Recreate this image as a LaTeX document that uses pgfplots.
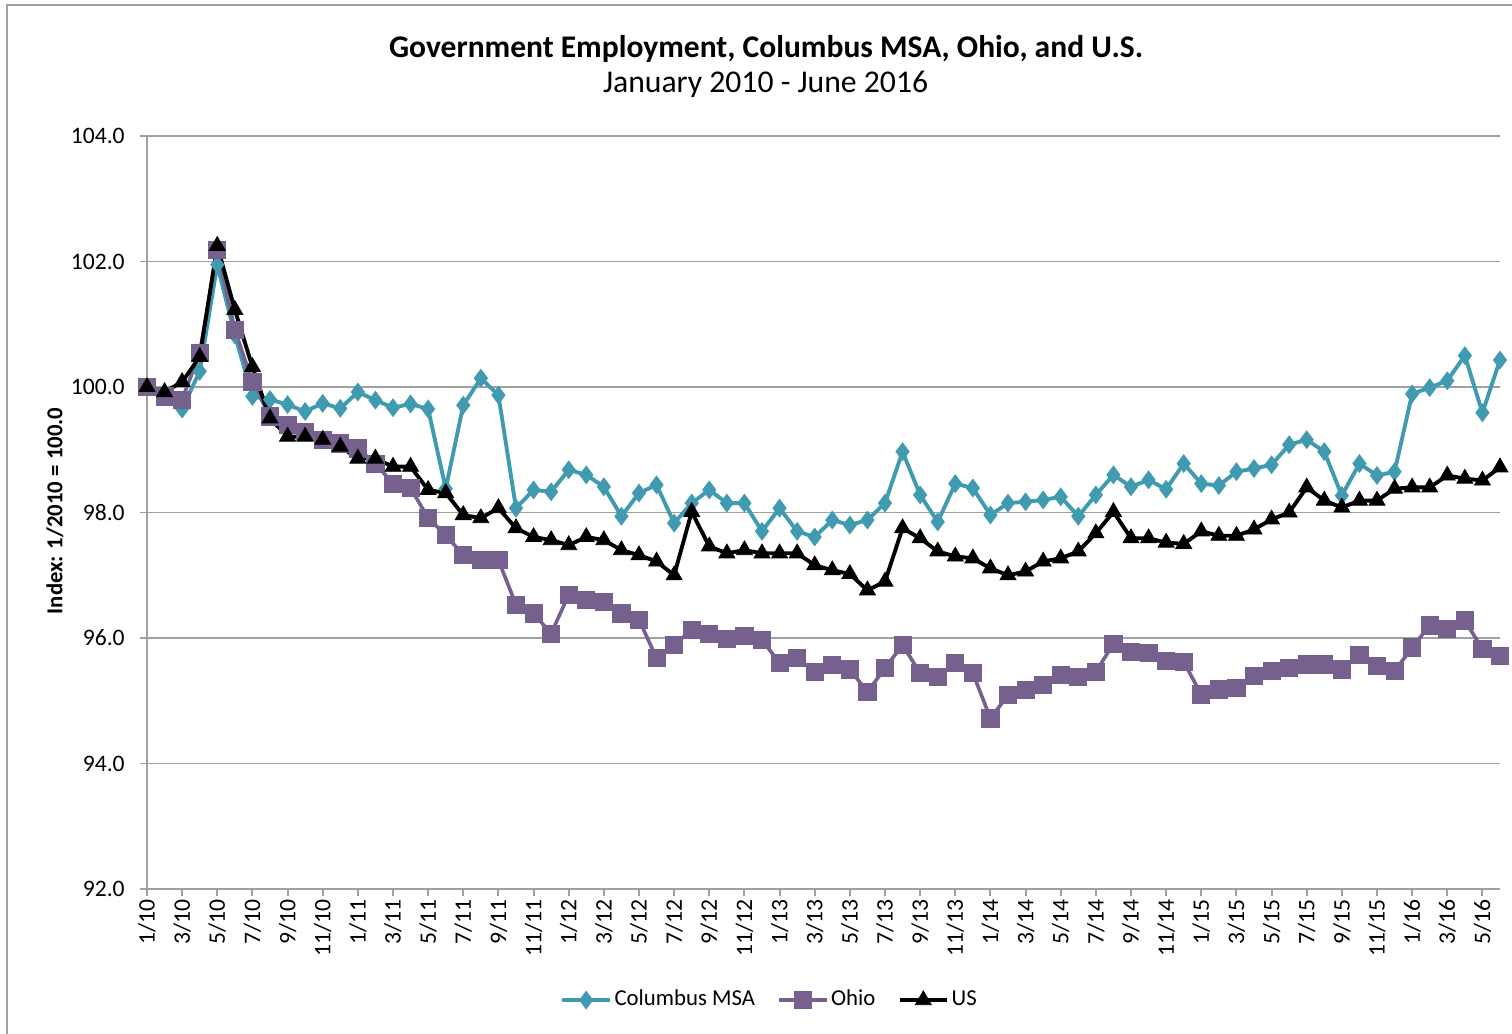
\documentclass[border=0pt]{standalone}
\usepackage{fontspec}
\setmainfont{Carlito}
\usepackage{pgfplots}
\pgfplotsset{compat=1.18}
\definecolor{colteal}{RGB}{64,155,177}
\definecolor{colpurp}{RGB}{118,96,142}
\definecolor{gridc}{RGB}{160,160,160}

\pgfplotstableread{
x y
0 100.00
1 99.90
2 99.65
3 100.25
4 101.95
5 100.83
6 99.85
7 99.80
8 99.72
9 99.61
10 99.74
11 99.66
12 99.92
13 99.79
14 99.67
15 99.73
16 99.65
17 98.38
18 99.71
19 100.14
20 99.87
21 98.07
22 98.36
23 98.33
24 98.68
25 98.60
26 98.41
27 97.94
28 98.31
29 98.44
30 97.83
31 98.15
32 98.36
33 98.15
34 98.15
35 97.70
36 98.07
37 97.70
38 97.61
39 97.88
40 97.80
41 97.88
42 98.15
43 98.97
44 98.28
45 97.85
46 98.46
47 98.39
48 97.96
49 98.15
50 98.17
51 98.20
52 98.25
53 97.94
54 98.28
55 98.60
56 98.41
57 98.52
58 98.37
59 98.78
60 98.46
61 98.43
62 98.65
63 98.70
64 98.76
65 99.08
66 99.16
67 98.97
68 98.27
69 98.78
70 98.59
71 98.65
72 99.89
73 99.99
74 100.10
75 100.50
76 99.59
77 100.43
}\columbus

\pgfplotstableread{
x y
0 100.00
1 99.85
2 99.80
3 100.54
4 102.18
5 100.91
6 100.08
7 99.53
8 99.39
9 99.29
10 99.16
11 99.10
12 99.02
13 98.78
14 98.46
15 98.39
16 97.91
17 97.64
18 97.32
19 97.24
20 97.24
21 96.53
22 96.39
23 96.07
24 96.69
25 96.61
26 96.58
27 96.39
28 96.29
29 95.68
30 95.89
31 96.13
32 96.07
33 95.99
34 96.03
35 95.97
36 95.60
37 95.68
38 95.46
39 95.57
40 95.50
41 95.14
42 95.52
43 95.89
44 95.44
45 95.38
46 95.60
47 95.44
48 94.72
49 95.09
50 95.17
51 95.25
52 95.41
53 95.38
54 95.46
55 95.91
56 95.78
57 95.76
58 95.63
59 95.62
60 95.10
61 95.18
62 95.20
63 95.39
64 95.47
65 95.52
66 95.58
67 95.58
68 95.50
69 95.73
70 95.55
71 95.47
72 95.85
73 96.20
74 96.15
75 96.28
76 95.82
77 95.72
}\ohio

\pgfplotstableread{
x y
0 100.00
1 99.92
2 100.08
3 100.48
4 102.25
5 101.23
6 100.32
7 99.50
8 99.21
9 99.21
10 99.16
11 99.05
12 98.86
13 98.86
14 98.73
15 98.73
16 98.36
17 98.31
18 97.96
19 97.91
20 98.07
21 97.75
22 97.61
23 97.56
24 97.48
25 97.61
26 97.56
27 97.40
28 97.32
29 97.22
30 97.00
31 98.01
32 97.46
33 97.35
34 97.40
35 97.35
36 97.35
37 97.35
38 97.16
39 97.08
40 97.02
41 96.76
42 96.90
43 97.75
44 97.59
45 97.38
46 97.30
47 97.27
48 97.11
49 97.00
50 97.06
51 97.22
52 97.27
53 97.38
54 97.67
55 98.01
56 97.59
57 97.59
58 97.52
59 97.50
60 97.70
61 97.63
62 97.63
63 97.73
64 97.89
65 98.00
66 98.40
67 98.19
68 98.08
69 98.19
70 98.19
71 98.38
72 98.40
73 98.40
74 98.59
75 98.54
76 98.51
77 98.72
}\us

\begin{document}
\begin{tikzpicture}
\useasboundingbox (0,0) rectangle (544.32pt,372.24pt);
\fill[white] (0,0) rectangle (544.32pt,372.24pt);
\draw[gridc, line width=0.8pt] (2.52pt,-2pt) -- (2.52pt,370.4pt) -- (550pt,370.4pt);
\node[font=\bfseries\fontsize{11.35}{13}\selectfont] at (275.8pt,354.6pt) {Government Employment, Columbus MSA, Ohio, and U.S.};
\node[font=\fontsize{11.4}{13}\selectfont] at (275.6pt,342pt) {January 2010 - June 2016};
\node[rotate=90, font=\bfseries\fontsize{8.2}{10}\selectfont] at (19.8pt,188.3pt) {Index: 1/2010 = 100.0};
\begin{axis}[
  at={(52.92pt,52.2pt)}, anchor=south west,
  scale only axis, width=487.08pt, height=271.08pt,
  xmin=0, xmax=77, ymin=92, ymax=104,
  clip=false,
  axis lines*=left,
  axis line style={gridc, line width=0.7pt},
  ymajorgrids, grid style={gridc, line width=0.7pt},
  ytick={92,94,...,104},
  xtick={0,2,...,76},
  xticklabels={1/10,3/10,5/10,7/10,9/10,11/10,1/11,3/11,5/11,7/11,9/11,11/11,1/12,3/12,5/12,7/12,9/12,11/12,1/13,3/13,5/13,7/13,9/13,11/13,1/14,3/14,5/14,7/14,9/14,11/14,1/15,3/15,5/15,7/15,9/15,11/15,1/16,3/16,5/16},
  tick align=outside, major tick length=2.5pt,
  tick style={gridc, line width=0.7pt},
  /pgf/number format/assume math mode=true,
  tick label style={font=\fontsize{8.5}{10}\selectfont, black},
  y tick label style={/pgf/number format/fixed, /pgf/number format/fixed zerofill, /pgf/number format/precision=1, xshift=-2pt},
  x tick label style={rotate=90, anchor=east, inner sep=1pt},
  legend style={at={(0.4605,0)}, anchor=center, yshift=-40pt, draw=none, fill=none,
    legend columns=3, font=\fontsize{8.2}{10}\selectfont,
    nodes={inner sep=1pt},
    /tikz/every odd column/.append style={column sep=0pt},
    /tikz/every even column/.append style={column sep=7pt}},
]
\addplot[colteal, line width=1.4pt, mark=diamond*, mark size=3pt, mark options={fill=colteal, draw=colteal, line width=0.5pt}] table[x=x,y=y] {\columbus};
\addlegendentry{Columbus MSA}
\addplot[colpurp, line width=1.3pt, mark=square*, mark size=3.1pt, mark options={fill=colpurp, draw=colpurp, line width=0.3pt}] table[x=x,y=y] {\ohio};
\addlegendentry{Ohio}
\addplot[black, line width=1.4pt, mark=triangle*, mark size=3.3pt, mark options={fill=black, draw=black, line width=0.3pt}] table[x=x,y=y] {\us};
\addlegendentry{US}
\end{axis}
\end{tikzpicture}
\end{document}
